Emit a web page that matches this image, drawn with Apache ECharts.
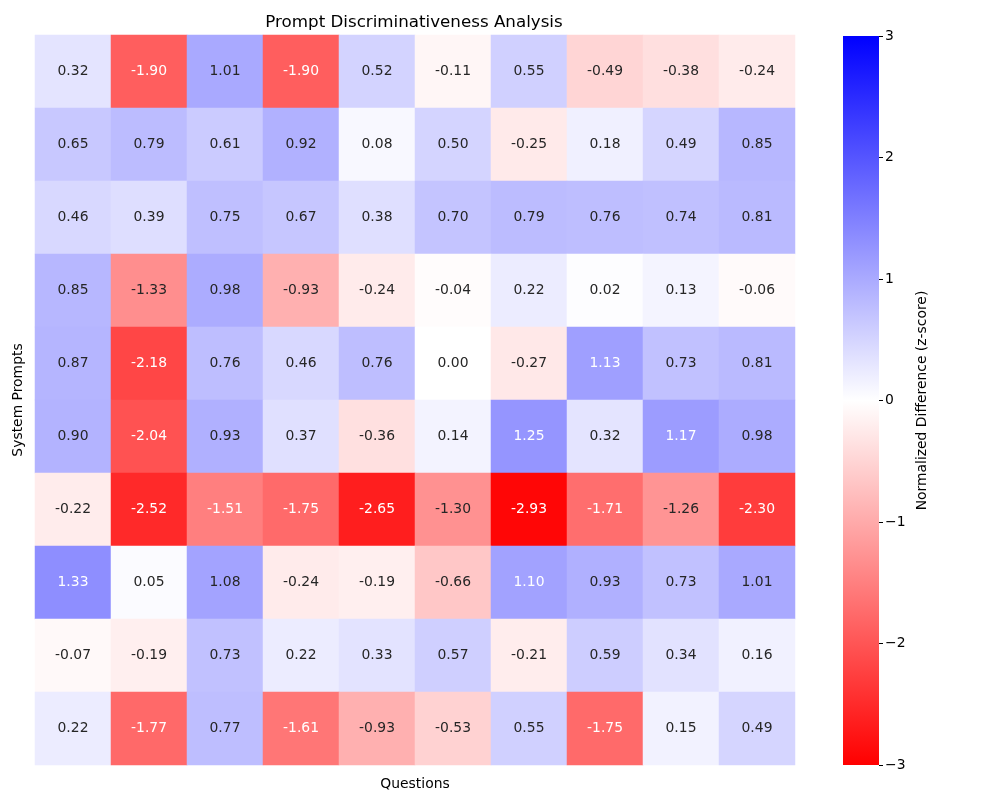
<!DOCTYPE html>
<html>
  <head>
    <meta charset="utf-8" />
    <script src="https://cdn.jsdelivr.net/npm/echarts@6.0.0/dist/echarts.min.js"></script>
    <style>
      body { margin: 0; background: #fff; }
    </style>
  </head>
  <body>
    <div id="main" style="width: 1000px; height: 800px"></div>

    <script type="text/javascript">
      // one row per system prompt (top to bottom), one column per question
      var questions = ["Q1", "Q2", "Q3", "Q4", "Q5", "Q6", "Q7", "Q8", "Q9", "Q10"];
      var prompts = ["P1", "P2", "P3", "P4", "P5", "P6", "P7", "P8", "P9", "P10"];
      var zscores = [
        [0.32, -1.90, 1.01, -1.90, 0.52, -0.11, 0.55, -0.49, -0.38, -0.24],
        [0.65, 0.79, 0.61, 0.92, 0.08, 0.50, -0.25, 0.18, 0.49, 0.85],
        [0.46, 0.39, 0.75, 0.67, 0.38, 0.70, 0.79, 0.76, 0.74, 0.81],
        [0.85, -1.33, 0.98, -0.93, -0.24, -0.04, 0.22, 0.02, 0.13, -0.06],
        [0.87, -2.18, 0.76, 0.46, 0.76, 0.00, -0.27, 1.13, 0.73, 0.81],
        [0.90, -2.04, 0.93, 0.37, -0.36, 0.14, 1.25, 0.32, 1.17, 0.98],
        [-0.22, -2.52, -1.51, -1.75, -2.65, -1.30, -2.93, -1.71, -1.26, -2.30],
        [1.33, 0.05, 1.08, -0.24, -0.19, -0.66, 1.10, 0.93, 0.73, 1.01],
        [-0.07, -0.19, 0.73, 0.22, 0.33, 0.57, -0.21, 0.59, 0.34, 0.16],
        [0.22, -1.77, 0.77, -1.61, -0.93, -0.53, 0.55, -1.75, 0.15, 0.49]
      ];
      var colorMin = -3;
      var colorMax = 3;

      var FONT = "DejaVu Sans";
      var FS = 13.9;

      // pick annotation colour the way seaborn does (relative luminance of the cell)
      function lin(c) {
        return c <= 0.03928 ? c / 12.92 : Math.pow((c + 0.055) / 1.055, 2.4);
      }
      function textColor(v) {
        var t = Math.max(-1, Math.min(1, v / colorMax));
        var r, g, b;
        if (t < 0) { r = 1; g = 1 + t; b = 1 + t; }
        else { r = 1 - t; g = 1 - t; b = 1; }
        var L = 0.2126 * lin(r) + 0.7152 * lin(g) + 0.0722 * lin(b);
        return L > 0.408 ? "#262626" : "#ffffff";
      }

      var cells = [];
      zscores.forEach(function (row, yi) {
        row.forEach(function (v, xi) {
          cells.push({ value: [xi, yi, v], label: { color: textColor(v) } });
        });
      });

      var myChart = echarts.init(document.getElementById("main"));

      var option = {
        animation: false,
        backgroundColor: "#ffffff",
        textStyle: { fontFamily: FONT },
        title: {
          text: "Prompt Discriminativeness Analysis",
          left: 409,
          top: 9,
          textAlign: "center",
          textStyle: { fontFamily: FONT, fontSize: 16.7, fontWeight: "normal", color: "#000" }
        },
        grid: [
          { left: 35, top: 35, width: 760, height: 730 },
          { left: 843, top: 36, width: 36, height: 729 }
        ],
        // colorbar body (same scale as the visualMap below)
        graphic: [
          {
            type: "rect",
            z: 100,
            shape: { x: 843, y: 36, width: 36, height: 729 },
            silent: true,
            style: {
              fill: new echarts.graphic.LinearGradient(0, 0, 0, 1, [
                { offset: 0, color: "#0000ff" },
                { offset: 0.5, color: "#ffffff" },
                { offset: 1, color: "#ff0000" }
              ])
            }
          }
        ],
        xAxis: [
          {
            type: "category",
            gridIndex: 0,
            data: questions,
            name: "Questions",
            nameLocation: "middle",
            nameGap: 12,
            nameTextStyle: { fontFamily: FONT, fontSize: FS, color: "#000" },
            axisLine: { show: false },
            axisTick: { show: false },
            axisLabel: { show: false },
            splitLine: { show: false }
          },
          {
            type: "category",
            gridIndex: 1,
            data: [""],
            show: false
          }
        ],
        yAxis: [
          {
            type: "category",
            gridIndex: 0,
            data: prompts,
            inverse: true,
            name: "System Prompts",
            nameLocation: "middle",
            nameGap: 10,
            nameTextStyle: { fontFamily: FONT, fontSize: FS, color: "#000" },
            axisLine: { show: false },
            axisTick: { show: false },
            axisLabel: { show: false },
            splitLine: { show: false }
          },
          {
            type: "value",
            gridIndex: 1,
            position: "right",
            min: colorMin,
            max: colorMax,
            interval: 1,
            name: "Normalized Difference (z-score)",
            nameLocation: "middle",
            nameRotate: 90,
            nameGap: 36,
            nameTextStyle: { fontFamily: FONT, fontSize: FS, color: "#000" },
            axisLine: { show: false, onZero: false },
            axisTick: { show: true, inside: false, length: 4, lineStyle: { color: "#000" } },
            axisLabel: {
              fontFamily: FONT,
              fontSize: FS,
              color: "#000",
              margin: 6,
              formatter: function (v) { return String(v).replace("-", "\u2212"); }
            },
            splitLine: { show: false },
            minorTick: { show: false },
            minorSplitLine: { show: false }
          }
        ],
        visualMap: {
          type: "continuous",
          show: false,
          min: colorMin,
          max: colorMax,
          seriesIndex: 0,
          inRange: { color: ["#ff0000", "#ffffff", "#0000ff"] }
        },
        series: [
          {
            type: "heatmap",
            xAxisIndex: 0,
            yAxisIndex: 0,
            data: cells,
            label: {
              show: true,
              fontFamily: FONT,
              fontSize: FS,
              formatter: function (p) { return p.value[2].toFixed(2); }
            },
            itemStyle: { borderWidth: 0 },
            emphasis: { disabled: true }
          }
        ]
      };

      myChart.setOption(option);
    </script>
  </body>
</html>
